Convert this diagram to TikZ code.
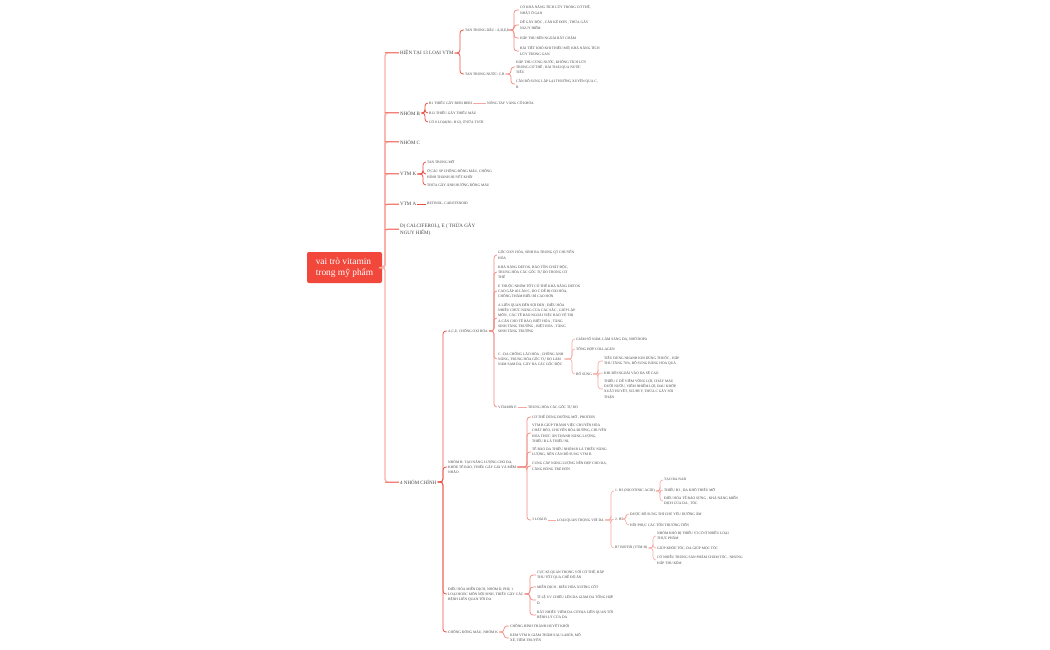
\documentclass[tikz,border=0pt]{standalone}
\usepackage{fontspec}
\setmainfont{Liberation Serif}
\usepackage{xcolor}
\usepackage{tikz}
\usetikzlibrary{positioning, calc}

\definecolor{rootred}{HTML}{F2473B}
\definecolor{spinepink}{HTML}{F8B0A9}
\definecolor{stubred}{HTML}{F27E75}
\definecolor{linkred}{HTML}{EA5046}
\definecolor{linkpink}{HTML}{F08C84}
\definecolor{linklight}{HTML}{F5A8A2}
\definecolor{txt}{HTML}{444444}

\tikzset{
  rootbox/.style={fill=rootred, rounded corners=2pt, text=white, align=left,
    minimum width=75pt, minimum height=31pt, inner sep=0pt,
    font=\fontsize{9.4}{10.8}\selectfont},
  topic/.style={anchor=west, inner sep=1pt, align=left, text=txt,
    font=\fontsize{5}{7}\selectfont},
  leaf/.style={anchor=west, inner sep=1pt, align=left, text=txt,
    font=\fontsize{3.6}{5.3}\selectfont},
  spine/.style={draw=spinepink, line width=1.3pt, rounded corners=3pt},
  stub/.style={draw=stubred, line width=1pt},
  lka/.style={draw=linkred, line width=0.8pt, rounded corners=3pt},
  lkb/.style={draw=linkpink, line width=0.7pt, rounded corners=3pt},
  lkc/.style={draw=linklight, line width=0.6pt, rounded corners=3pt},
}

% parent -> children, bent at x = #3
\newcommand{\branch}[4]{%
  \path (#3,0) coordinate (brk);
  \foreach \c in {#4} {\draw[#1] (#2.east) -- (#2.east -| brk) |- (\c.west);}
}

\begin{document}
\begin{tikzpicture}[x=1pt, y=-1pt]
  \fill[white] (0,0) rectangle (1050,650);
  \useasboundingbox (0,0) rectangle (1050,650);

  % Root
  \node[rootbox] (root) at (344.5,267.5) {vai trò vitamin\\trong mỹ phẩm};

  % Main topics
  \node[topic] (hien)  at (399,53)  {HIỆN TẠI 13 LOẠI VTM};
  \node[topic] (nhomb) at (399,113) {NHÓM B};
  \node[topic] (nhomc) at (399,142) {NHÓM C};
  \node[topic] (vtmk)  at (399,174) {VTM K};
  \node[topic] (vtma)  at (399,204) {VTM A};
  \node[topic] (dce)   at (399,229) {D( CALCIFEROL), E ( THỪA GÂY\\NGUY HIỂM)};
  \node[topic] (bon)   at (399,482) {4 NHÓM CHÍNH};

  % 13 loai vtm
  \node[leaf] (dau)  at (464,30) {TAN TRONG DẦU : A,D,E,K};
  \node[leaf] (nuoc) at (464,74) {TAN TRONG NƯỚC: C,B};
  \node[leaf] (d1) at (519,10) {CÓ KHẢ NĂNG TÍCH LŨY TRONG CƠ THỂ,\\NHẤT Ở GAN};
  \node[leaf] (d2) at (519,25) {DỄ GÂY ĐỘC , CẦN KÊ ĐƠN , THỪA GÂY\\NGUY HIỂM};
  \node[leaf] (d3) at (519,38) {HẤP THU BÊN NGOÀI RẤT CHẬM};
  \node[leaf] (d4) at (519,51) {BÀI TIẾT KHÓ KHI THIẾU MỠ, KHẢ NĂNG TÍCH\\LŨY TRONG GAN};
  \node[leaf] (n1) at (515,67) {HẤP THU CÙNG NƯỚC, KHÔNG TÍCH LŨY\\TRONG CƠ THỂ , BÀI THẢI QUA NƯỚC\\TIỂU};
  \node[leaf] (n2) at (515,84) {CẦN BỔ SUNG LẶP LẠI THƯỜNG XUYÊN QUA C,\\B};

  % Nhom B, K, A
  \node[leaf] (b1)   at (428,103) {B1 THIẾU GÂY BERI BERI};
  \node[leaf] (beri) at (486,103) {NÓNG TAY VÀNG CỔ KHÓA};
  \node[leaf] (b12)  at (428,113) {B12 THIẾU GÂY THIẾU MÁU};
  \node[leaf] (b8)   at (428,122) {CÓ 8 LOẠI(B1- B12), Ở SỮA TƯƠI};
  \node[leaf] (k1) at (426,162) {TAN TRONG MỠ};
  \node[leaf] (k2) at (426,174) {Ở CÁC SP CHỐNG ĐÔNG MÁU, CHỐNG\\HÌNH THÀNH HUYẾT KHỐI};
  \node[leaf] (k3) at (426,185) {THỪA GÂY ẢNH HƯỞNG ĐÔNG MÁU};
  \node[leaf] (a1) at (426,204) {RETINOL, CAROTENOID};

  % 4 nhom chinh
  \node[leaf] (ace) at (447,331) {A,C,E, CHỐNG OXI HÓA};
  \node[leaf] (nb)  at (447,467) {NHÓM B: TẠO NĂNG LƯỢNG CHO DA,\\KHỎE TẾ BÀO, THIẾU GÂY GIÀ VÀ MỀM\\NHÃO};
  \node[leaf] (nd)  at (447,594) {ĐIỀU HÒA MIỄN DỊCH, NHÓM D, PHỤ 1\\LOẠI HOOC MÔN NỘI SINH, THIẾU GÂY CÁC\\BỆNH LIÊN QUAN TỚI DA};
  \node[leaf] (nk)  at (447,632) {CHỐNG ĐÔNG MÁU, NHÓM K};

  % A, C, E
  \node[leaf] (o1) at (497,255) {GỐC OXY HÓA, SINH RA TRONG QT CHUYỂN\\HÓA};
  \node[leaf] (o2) at (497,272) {KHẢ NĂNG DETOX, BẢO TỒN CHẤT ĐỘC,\\TRUNG HÒA CÁC GỐC TỰ DO TRONG CƠ\\THỂ};
  \node[leaf] (o3) at (497,291) {E THUỘC NHÓM TỐT CÓ THỂ KHẢ NĂNG DETOX\\CAO GẤP 40 LẦN C, DO C DỄ BỊ OXI HÓA,\\CHỐNG THẤM BIỂU BÌ CAO HƠN};
  \node[leaf] (o4) at (497,318) {A LIÊN QUAN ĐẾN SỢI ĐEN , ĐIỀU HÒA\\NHIỀU CHỨC NĂNG CỦA CÁC SẮC , GIÚP LẶP\\MÔN , CÁC TẾ BÀO NGOÀI VIỆC BẢO VỆ THỊ\\A CẦN CHO TẾ BÀO, BIỆT HÓA , TĂNG\\SINH TĂNG TRƯỞNG , BIỆT HÓA , TĂNG\\SINH TĂNG TRƯỞNG};
  \node[leaf] (o5) at (497,359) {C : DA CHỐNG LÃO HÓA , CHỐNG ÁNH\\NẮNG, TRUNG HÒA GỐC TỰ DO LÀM\\NÁM SẠM DA, GÂY RA CÁC GỐC ĐỘC};
  \node[leaf] (o6) at (497,407) {VITAMIN E};
  \node[leaf] (ve) at (527,407) {TRUNG HÒA CÁC GỐC TỰ DO};
  \node[leaf] (c1) at (575,339) {GIẢM SỐ NÁM, LÀM SÁNG DA, NHỜ DOPA};
  \node[leaf] (c2) at (575,349) {TỔNG HỢP COLLAGEN};
  \node[leaf] (c3) at (575,374) {BỔ SUNG};
  \node[leaf] (s1) at (603,361) {TIÊU DÙNG NHANH KHI DÙNG THUỐC , HẤP\\THU TĂNG 70\%, BỔ SUNG BẰNG HOA QUẢ};
  \node[leaf] (s2) at (603,373) {KHI BÔI NGOÀI VÀO DA SẼ CAO};
  \node[leaf] (s3) at (603,389) {THIẾU C DỄ VIÊM VÕNG LỢI, CHẢY MÁU\\DƯỚI NƯỚU, VIÊM NHIỄM LỢI, ĐAU KHỚP,\\XUẤT HUYẾT, SCURVY, THỪA C GÂY SỎI\\THẬN};

  % Nhom B
  \node[leaf] (m1) at (531,417) {CƠ THỂ DÙNG ĐƯỜNG MỠ , PROTEIN};
  \node[leaf] (m2) at (531,433) {VTM B GIÚP THÀNH VIỆC CHUYỂN HÓA\\CHẤT BÉO, CHUYỂN HÓA ĐƯỜNG, CHUYỂN\\HÓA THỨC ĂN THÀNH NĂNG LƯỢNG,\\THIẾU B LÀ THIẾU NL};
  \node[leaf] (m3) at (531,452) {TẾ BÀO DA THIẾU NHÓM B LÀ THIẾU NĂNG\\LƯỢNG, NÊN CẦN BỔ SUNG VTM B};
  \node[leaf] (m4) at (531,466) {CUNG CẤP NĂNG LƯỢNG NỀN ĐẸP CHO DA,\\CĂNG BÓNG TRẺ HƠN};
  \node[leaf] (m5) at (531,520) {3 LOẠI B};
  \node[leaf] (lq) at (556,520) {LOẠI QUAN TRỌNG VỚI DA};
  \node[leaf] (b3) at (614,491) {1. B3 (NICOTINIC ACID)};
  \node[leaf] (b5) at (614,519) {2. B5};
  \node[leaf] (b7) at (614,548) {B7 BIOTIN (VTM H)};
  \node[leaf] (b3a) at (663,480) {TẠO RA NAD};
  \node[leaf] (b3b) at (663,490) {THIẾU B3 , DA KHÔ THIẾU MỠ};
  \node[leaf] (b3c) at (663,501) {ĐIỀU HÒA TẾ BÀO SỪNG , KHẢ NĂNG MIỄN\\DỊCH CỦA DA , TÓC};
  \node[leaf] (b5a) at (629,514) {ĐƯỢC BỔ SUNG THÌ CHỦ YẾU DƯỠNG ẨM};
  \node[leaf] (b5b) at (629,525) {HỒI PHỤC CÁC TỔN THƯƠNG TIẾN};
  \node[leaf] (b7a) at (656,536) {NHÓM KHÓ BỊ THIẾU VÌ CÓ Ở NHIỀU LOẠI\\THỰC PHẨM};
  \node[leaf] (b7b) at (656,548) {GIÚP KHỎE TÓC, DA GIÚP MỌC TÓC};
  \node[leaf] (b7c) at (656,560) {CÓ NHIỀU TRONG SẢN PHẨM CHĂM TÓC , NHƯNG\\HẤP THU KÉM};

  % Nhom D, K
  \node[leaf] (dd1) at (536,575) {CỰC KÌ QUAN TRỌNG VỚI CƠ THỂ, HẤP\\THU TỐT QUA CHẾ ĐỘ ĂN};
  \node[leaf] (dd2) at (536,587) {MIỄN DỊCH , ĐIỀU HÒA XƯƠNG CỐT};
  \node[leaf] (dd3) at (536,600) {TỈ LỆ UV CHIẾU LÊN DA GIẢM DA TỔNG HỢP\\D};
  \node[leaf] (dd4) at (536,615) {RẤT NHIỀU VIÊM DA CƠ ĐỊA LIÊN QUAN TỚI\\BỆNH LÝ CỦA DA};
  \node[leaf] (kk1) at (509,626) {CHỐNG HÌNH THÀNH HUYẾT KHỐI};
  \node[leaf] (kk2) at (509,638) {KEM VTM K GIẢM THÂM SAU LASER, MỔ\\XẺ, TIÊM TRUYỀN};

  % Connectors
  \branch{spine}{root}{385}{hien,nhomb,nhomc,vtmk,vtma,dce,bon}
  \foreach \t in {hien,nhomb,nhomc,vtmk,vtma,dce,bon}
    \draw[stub] (\t.west -| brk) -- (\t.west);

  \branch{lka}{hien}{460}{dau,nuoc}
  \branch{lkb}{dau}{514}{d1,d2,d3,d4}
  \branch{lkb}{nuoc}{511}{n1,n2}
  \branch{lka}{nhomb}{425}{b1,b12,b8}
  \draw[lkc] (b1.east) -- (beri.west);
  \branch{lka}{vtmk}{423}{k1,k2,k3}
  \draw[lka] (vtma.east) -- (a1.west);

  \branch{lka}{bon}{443}{ace,nb,nd,nk}
  \branch{lkb}{ace}{494}{o1,o2,o3,o4,o5,o6}
  \draw[lkc] (o6.east) -- (ve.west);
  \branch{lkc}{o5}{572}{c1,c2,c3}
  \branch{lkc}{c3}{598}{s1,s2,s3}
  \branch{lkb}{nb}{527}{m1,m2,m3,m4,m5}
  \draw[lkc] (m5.east) -- (lq.west);
  \branch{lkc}{lq}{611}{b3,b5,b7}
  \branch{lkc}{b3}{660}{b3a,b3b,b3c}
  \branch{lkc}{b5}{626}{b5a,b5b}
  \branch{lkc}{b7}{653}{b7a,b7b,b7c}
  \branch{lkb}{nd}{530}{dd1,dd2,dd3,dd4}
  \branch{lkb}{nk}{504}{kk1,kk2}
\end{tikzpicture}
\end{document}
